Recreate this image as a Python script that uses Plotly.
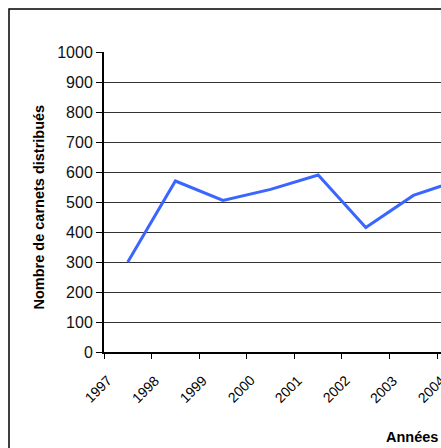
import plotly.graph_objects as go

years = ["1997", "1998", "1999", "2000", "2001", "2002", "2003", "2004"]
carnets = [300, 570, 505, 542, 590, 415, 522, 575]
y_ticks = [0, 100, 200, 300, 400, 500, 600, 700, 800, 900, 1000]

W, H = 441, 448
L, R, T, B = 104, 0, 52, 96
pw = W - L - R
ph = H - T - B

def px_x(p):
    return (p - L) / pw

def px_y(p):
    return (H - B - p) / ph

fig = go.Figure()
fig.add_trace(go.Scatter(
    x=years, y=carnets, mode="lines",
    line=dict(color="#3a66ff", width=3),
    showlegend=False, hoverinfo="skip",
))

frame_path = "M {x0},{y0} L {x0},{y1} L {x1},{y1}".format(
    x0=px_x(9), y0=px_y(H), y1=px_y(9), x1=px_x(W))

x_lo, x_hi = -0.5, 6.58
n_span = x_hi - x_lo

label_annos = []
for i, yr in enumerate(years):
    cx = (i + 0.5) / n_span
    label_annos.append(dict(
        text=yr, xref="paper", yref="paper",
        x=cx - 10 / pw, y=-18 / ph, xanchor="right", yanchor="top",
        textangle=-45, showarrow=False,
        font=dict(size=14, color="black", family="Liberation Sans, Arial, sans-serif"),
    ))

fig.update_layout(
    width=W, height=H,
    margin=dict(l=L, r=R, t=T, b=B, pad=0, autoexpand=False),
    paper_bgcolor="white", plot_bgcolor="white",
    font=dict(family="Liberation Sans, Arial, sans-serif", color="black"),
    xaxis=dict(
        type="category",
        range=[x_lo, x_hi],
        tickson="boundaries",
        ticks="outside", ticklen=5, tickcolor="black", tickwidth=1.2,
        showticklabels=False,
        showline=True, linecolor="black", linewidth=1.5,
        showgrid=False, zeroline=False, automargin=False,
    ),
    yaxis=dict(
        range=[0, 1000],
        tickvals=y_ticks,
        ticks="outside", ticklen=6, tickcolor="black", tickwidth=1.2,
        tickfont=dict(size=16, color="#111"),
        showline=True, linecolor="black", linewidth=2,
        showgrid=True, gridcolor="#333333", gridwidth=1.3,
        zeroline=False, automargin=False,
    ),
    shapes=[dict(
        type="path", xref="paper", yref="paper", path=frame_path,
        line=dict(color="black", width=1.5), layer="below",
    )],
    annotations=[
        dict(text="<b>Nombre de carnets distribués</b>", xref="paper", yref="paper",
             x=px_x(38), y=px_y(207.5), textangle=-90, showarrow=False,
             font=dict(size=14.5, color="black"), xanchor="center", yanchor="middle"),
        dict(text="<b>Années</b>", xref="paper", yref="paper",
             x=px_x(412), y=px_y(437), showarrow=False,
             font=dict(size=14.5, color="black"), xanchor="center", yanchor="middle"),
    ] + label_annos,
)

fig.write_html(
    "out.html",
    config={"displayModeBar": False, "responsive": False},
    post_script="document.body.style.margin='0';document.body.style.overflow='hidden';",
)
